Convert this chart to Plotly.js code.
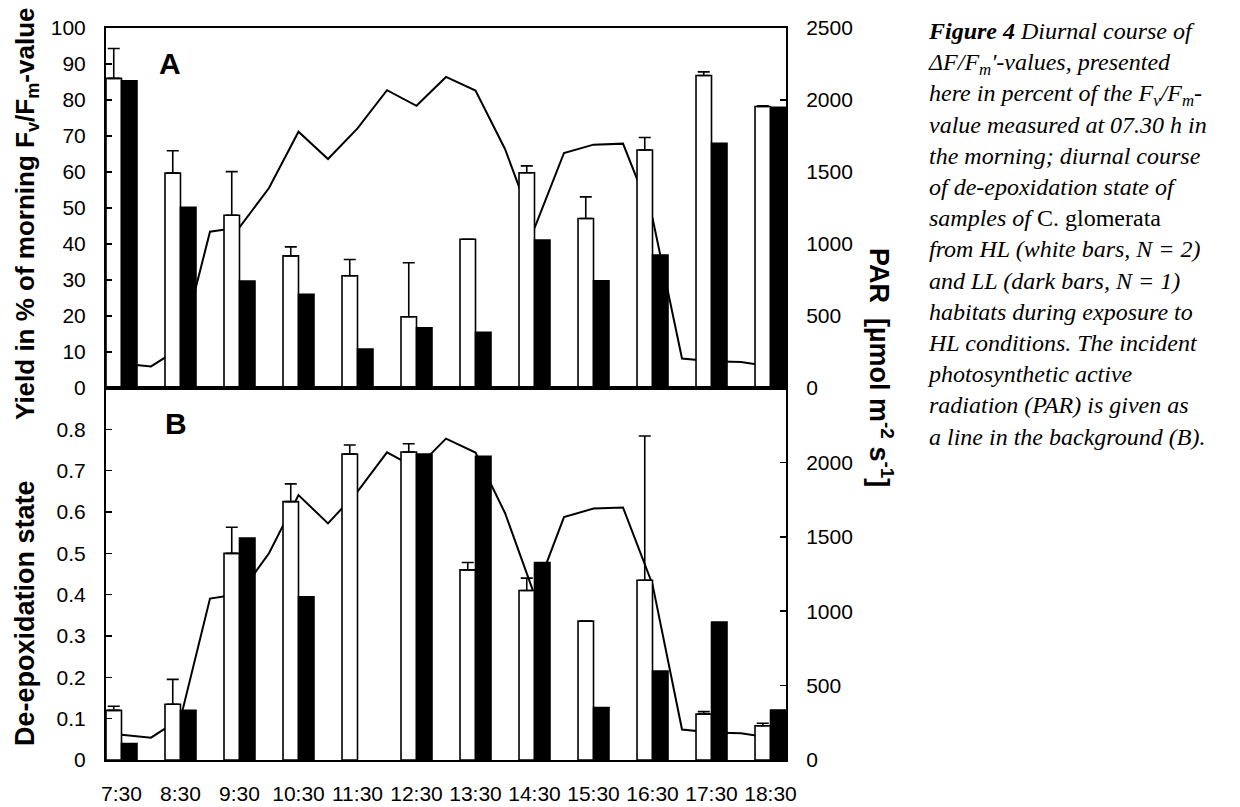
<!DOCTYPE html>
<html>
<head>
<meta charset="utf-8">
<script src="https://cdn.plot.ly/plotly-3.0.1.min.js"></script>
<style>html,body{margin:0;padding:0;background:#fff;}#chart{width:1240px;height:807px;}</style>
</head>
<body>
<div id="chart"></div>
<script>
// ---- data ----
const categories = ["7:30","8:30","9:30","10:30","11:30","12:30","13:30","14:30","15:30","16:30","17:30","18:30"];

// Panel A: yield in % of morning Fv/Fm
const yieldHL    = [86, 59.7, 48, 36.7, 31.2, 19.8, 41.3, 59.8, 47.1, 66.1, 86.8, 78.2];
const yieldHLerr = [8.3, 6.2, 12.1, 2.5, 4.5, 15, 0, 1.9, 6, 3.5, 1, 0.2];
const yieldLL    = [85.3, 50.2, 29.7, 26, 10.8, 16.7, 15.5, 41.1, 29.8, 36.9, 68, 78];

// Panel B: de-epoxidation state
const depsHL    = [0.12, 0.135, 0.5, 0.625, 0.74, 0.745, 0.46, 0.41, 0.336, 0.435, 0.111, 0.083];
const depsHLerr = [0.01, 0.06, 0.063, 0.043, 0.022, 0.02, 0.018, 0.03, 0, 0.349, 0.006, 0.006];
const depsLL    = [0.04, 0.12, 0.537, 0.395, null, 0.74, 0.735, 0.478, 0.127, 0.215, 0.334, 0.121];

// PAR line (half-hourly)
const parTimes = ["7:30","8:00","8:30","9:00","9:30","10:00","10:30","11:00","11:30","12:00","12:30","13:00",
                  "13:30","14:00","14:30","15:00","15:30","16:00","16:30","17:00","17:30","18:00","18:30"];
const parValues = [170, 150, 278, 1085, 1115, 1389, 1780, 1590, 1803, 2068, 1960, 2160,
                   2066, 1660, 1110, 1632, 1690, 1697, 1180, 205, 185, 180, 150];

const depsTicks = [0, 0.1, 0.2, 0.3, 0.4, 0.5, 0.6, 0.7, 0.8];
const parTicksB = [0, 500, 1000, 1500, 2000];

const captionLines = [
  "<b><i>Figure 4</i></b><i> Diurnal course of</i>",
  "<i>ΔF/F<sub>m</sub>'-values, presented</i>",
  "<i>here in percent of the F<sub>v</sub>/F<sub>m</sub>-</i>",
  "<i>value measured at 07.30 h in</i>",
  "<i>the morning; diurnal course</i>",
  "<i>of de-epoxidation state of</i>",
  "<i>samples of </i>C. glomerata",
  "<i>from HL (white bars, N = 2)</i>",
  "<i>and LL (dark bars, N = 1)</i>",
  "<i>habitats during exposure to</i>",
  "<i>HL conditions. The incident</i>",
  "<i>photosynthetic active</i>",
  "<i>radiation (PAR) is given as</i>",
  "<i>a line in the background (B).</i>"
];

// ---- build ----
function toHours(s){ const p = s.split(':').map(Number); return p[0] + p[1]/60; }
const barX = categories.map(toHours);
const parX = parTimes.map(toHours);

const FONT = "Liberation Sans, Arial, sans-serif";
const black = "#000";

const whiteBar = {color: "#fff", line: {color: black, width: 1.6}};
const blackBar = {color: black, line: {color: black, width: 1.6}};
const errStyle = (arr) => ({type: "data", array: arr, symmetric: false, arrayminus: arr.map(() => 0),
                            color: black, thickness: 1.6, width: 6});

const traces = [
  // Panel A
  {type: "scatter", mode: "lines", x: parX, y: parValues, xaxis: "x", yaxis: "y",
   line: {color: black, width: 2}, hoverinfo: "skip"},
  {type: "bar", x: barX, y: yieldHL, xaxis: "x", yaxis: "y2", marker: whiteBar, error_y: errStyle(yieldHLerr)},
  {type: "bar", x: barX, y: yieldLL, xaxis: "x", yaxis: "y2", marker: blackBar},
  // Panel B
  {type: "scatter", mode: "lines", x: parX, y: parValues, xaxis: "x2", yaxis: "y3",
   line: {color: black, width: 2}, hoverinfo: "skip"},
  {type: "bar", x: barX, y: depsHL, xaxis: "x2", yaxis: "y4", marker: whiteBar, error_y: errStyle(depsHLerr)},
  {type: "bar", x: barX, y: depsLL, xaxis: "x2", yaxis: "y4", marker: blackBar}
];

const L = 106, R = 786, T = 28, B = 760, MID = 388;
const W = 1240, H = 807;
const px2x = (px) => (px - L) / (R - L);
const px2y = (py) => (B - py) / (B - T);
const split = px2y(MID);

const xRange = [barX[0] - 0.2625, barX[barX.length - 1] + 0.2625];

const axLine = {showline: true, linecolor: black, linewidth: 2, showgrid: false, zeroline: false, fixedrange: true};
const tickF = {family: FONT, size: 21, color: black};

const annotations = [
  {text: "<b>A</b>", xref: "paper", yref: "paper", x: px2x(170), y: px2y(63), showarrow: false,
   font: {family: FONT, size: 30, color: black}, xanchor: "center", yanchor: "middle"},
  {text: "<b>B</b>", xref: "paper", yref: "paper", x: px2x(176), y: px2y(424), showarrow: false,
   font: {family: FONT, size: 30, color: black}, xanchor: "center", yanchor: "middle"},
  {text: "<b>Yield in % of morning F<sub>v</sub>/F<sub>m</sub>-value</b>", xref: "paper", yref: "paper",
   x: px2x(27), y: px2y(214), textangle: -90, showarrow: false, xanchor: "center", yanchor: "middle",
   font: {family: FONT, size: 26, color: black}},
  {text: "<b>De-epoxidation state</b>", xref: "paper", yref: "paper",
   x: px2x(25), y: px2y(613), textangle: -90, showarrow: false, xanchor: "center", yanchor: "middle",
   font: {family: FONT, size: 27, color: black}},
  {text: "<b>PAR  [µmol m<sup>-2</sup> s<sup>-1</sup>]</b>", xref: "paper", yref: "paper",
   x: px2x(881), y: px2y(367), textangle: 90, showarrow: false, xanchor: "center", yanchor: "middle",
   font: {family: FONT, size: 27, color: black}},
  {text: captionLines.join("<br>"), xref: "paper", yref: "paper", x: px2x(925), y: px2y(16),
   xanchor: "left", yanchor: "top", showarrow: false, align: "left",
   font: {family: "Liberation Serif, Times New Roman, serif", size: 24, color: black}}
];

const layout = {
  width: W, height: H,
  margin: {l: L, r: W - R, t: T, b: H - B, pad: 0},
  paper_bgcolor: "#fff", plot_bgcolor: "rgba(0,0,0,0)",
  showlegend: false,
  barmode: "group", bargap: 0.475, bargroupgap: 0,
  font: {family: FONT, color: black},
  xaxis: Object.assign({}, axLine, {domain: [0, 1], anchor: "y", range: xRange, showticklabels: false,
    ticks: "", mirror: true}),
  xaxis2: Object.assign({}, axLine, {domain: [0, 1], anchor: "y3", range: xRange, tickvals: barX,
    ticktext: categories, ticks: "", mirror: true, tickfont: {family: FONT, size: 21, color: black},
    ticklabelstandoff: 14}),
  yaxis: Object.assign({}, axLine, {domain: [split, 1], anchor: "x", side: "right", range: [0, 2500],
    dtick: 500, tick0: 0, ticks: "inside", ticklen: 6, tickcolor: black, tickwidth: 1.5, tickfont: tickF,
    ticklabelstandoff: 14}),
  yaxis2: Object.assign({}, axLine, {overlaying: "y", anchor: "x", side: "left", range: [0, 100],
    dtick: 10, tick0: 0, ticks: "inside", ticklen: 6, tickcolor: black, tickwidth: 1.5, tickfont: tickF,
    ticklabelstandoff: 14}),
  yaxis3: Object.assign({}, axLine, {domain: [0, split], anchor: "x2", side: "right", range: [0, 2500],
    tickvals: parTicksB, ticks: "inside", ticklen: 6, tickcolor: black, tickwidth: 1.5, tickfont: tickF,
    ticklabelstandoff: 14}),
  yaxis4: Object.assign({}, axLine, {overlaying: "y3", anchor: "x2", side: "left", range: [0, 0.9],
    tickvals: depsTicks, ticks: "inside", ticklen: 6, tickcolor: black, tickwidth: 1.5, tickfont: tickF,
    ticklabelstandoff: 14}),
  annotations: annotations
};

Plotly.newPlot("chart", traces, layout, {staticPlot: true, displayModeBar: false});
</script>
</body>
</html>
